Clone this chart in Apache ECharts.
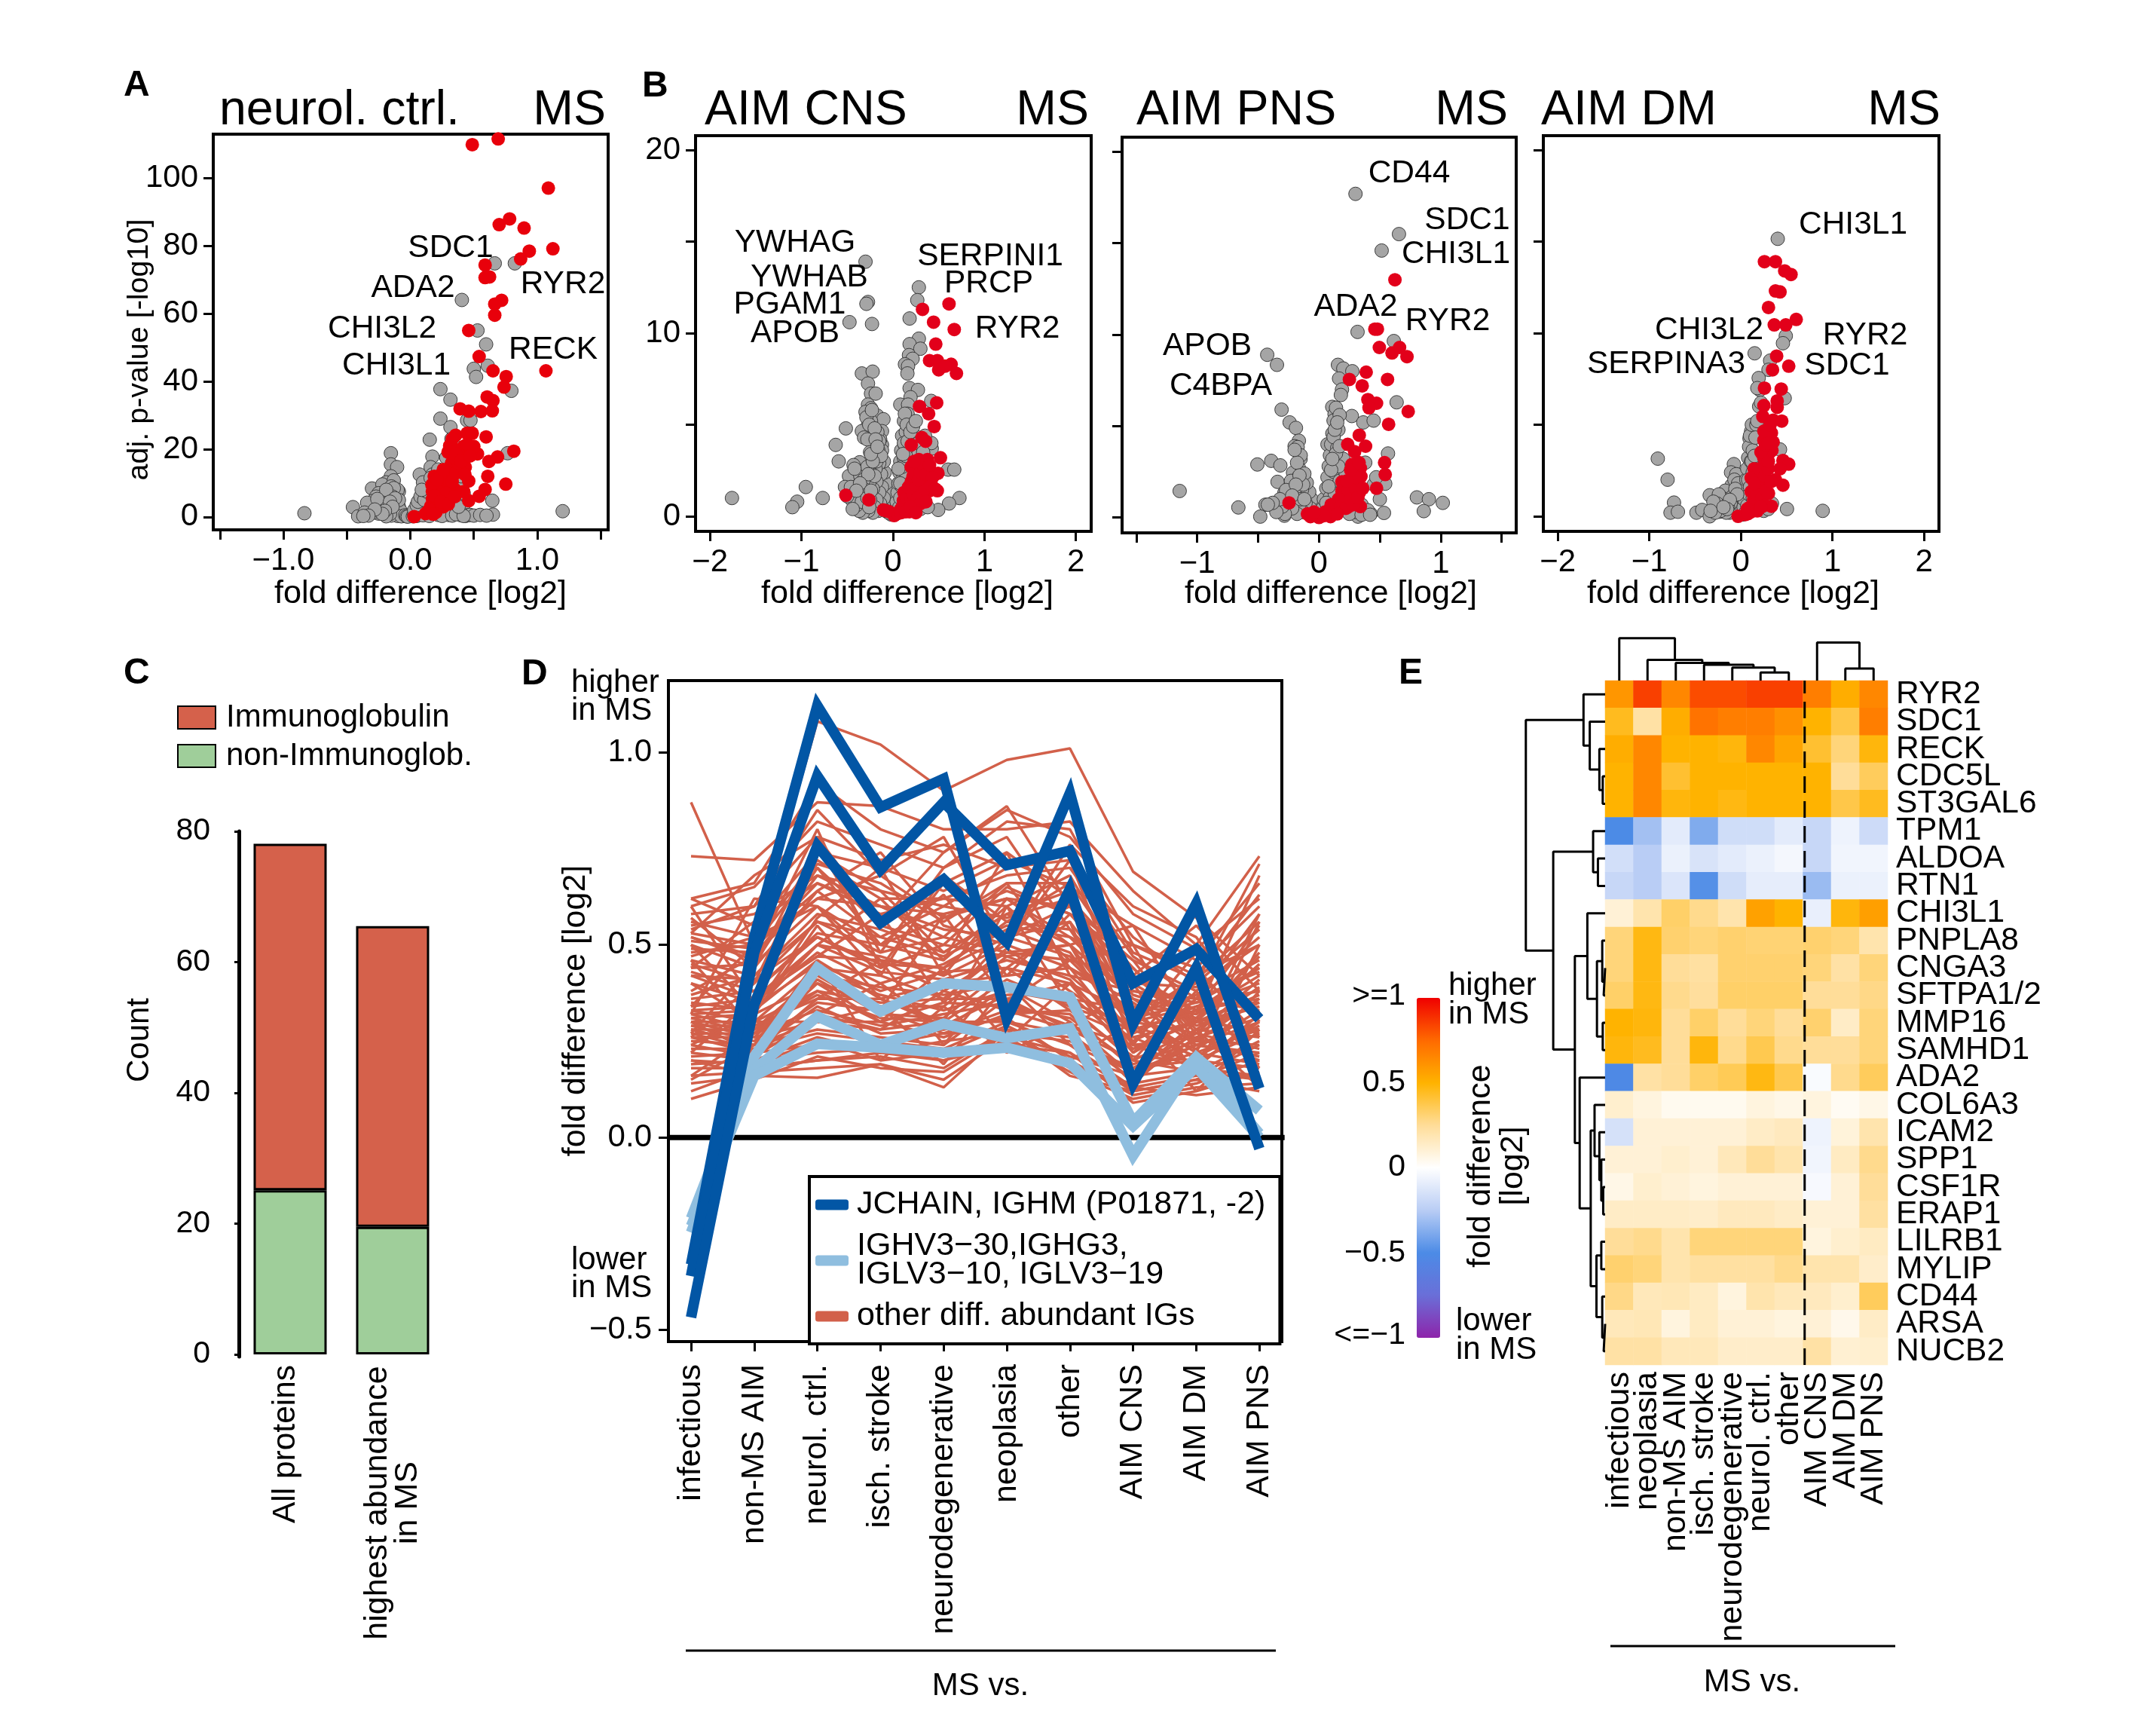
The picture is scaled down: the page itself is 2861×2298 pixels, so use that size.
<!DOCTYPE html>
<html><head><meta charset="utf-8">
<style>html,body{margin:0;padding:0;background:#fff}#c{width:2861px;height:2298px}</style>
<script src="https://cdn.jsdelivr.net/npm/echarts@6/dist/echarts.min.js"></script>
</head><body><div id="c"></div>
<script>
// ---------- DATA ----------
const aGrey=[[.665,74.8],[.823,74.8],[.406,64],[.529,55],[.597,50.9],[.5,43.7],[.61,44.6],[.518,41.3],[.796,37.2],[.237,37.7],[.316,34.6],[.237,29],[.447,28.5],[.474,28.5],[.316,26.5],[.153,22.8],[.324,23],[.174,17.8],[.283,17.5],[.766,18.8],[-.153,18.8],[-.153,15.5],[-.104,14.7],[-.153,12],[.074,12.5],[.16,14.7],[.174,12.5],[-.302,8.4],[-.09,7.5],[.646,4.8],[-.834,1.1],[-.452,2.9],[-.411,.2],[1.2,1.7],[.651,.7],[.433,.3],
[-.05,.4],[-.06,1],[-.08,.6],[-.1,1.5],[-.1,.3],[-.12,2.3],[-.12,.9],[-.13,3.4],[-.14,1.2],[-.15,4.5],[-.15,2],[-.15,.4],[-.16,6],[-.16,3],[-.17,7.5],[-.17,1.1],[-.18,9],[-.18,4.3],[-.18,2.2],[-.19,10.2],[-.2,5.4],[-.2,3.1],[-.2,.6],[-.21,6.6],[-.21,1.5],[-.22,4.4],[-.22,9.6],[-.23,2.6],[-.24,5.7],[-.25,7],[-.25,3.4],[-.25,1],[-.27,6],[-.27,4.4],[-.29,4.8],[-.3,3.3],[-.3,1.2],[-.33,1.4],[-.34,4.2],[-.36,1.3],[-.13,10.8],[-.11,6.8],[-.12,7.6],[-.09,3],[-.08,2],[-.07,.2],[-.04,.5],[-.03,.2],[-.02,.1],[-.16,.9],[-.19,.2],[-.1,8],
[.02,.2],[.03,.6],[.04,1.1],[.05,.3],[.06,1.8],[.07,2.8],[.07,.7],[.08,4],[.09,1.2],[.09,5.4],[.1,6.8],[.1,2.6],[.1,.5],[.11,8.2],[.12,3.8],[.12,1.4],[.13,10],[.14,5.3],[.14,.7],[.15,7],[.15,2.4],[.16,3.6],[.17,9.2],[.17,.8],[.18,4.8],[.19,6],[.2,11],[.2,2],[.21,3.3],[.22,14],[.22,.6],[.23,8],[.25,5.2],[.25,1.3],[.27,2.8],[.28,11],[.3,7],[.3,.6],[.32,4.2],[.33,16],[.35,1.5],[.38,5.5],[.4,.5],[.43,1.4],[.45,.5],[.47,.6],[.5,.4],[.55,.6],[.35,21],[.38,9],[.4,12],
[-.15,9],[-.13,8.5],[-.17,5.3],[-.14,6],[-.19,8],[-.11,4.8],[-.09,5],[-.23,4],[-.26,5.3],[-.12,5.5],[-.16,4.5],[-.14,3],[-.2,1.8],[-.22,.9],[-.28,2.2],[-.33,.4],[-.37,.3],[.03,2],[.05,3.5],[.06,4.5],[.08,6],[.11,5],[.12,9.5],[.1,10.2],[.13,7.5],[.16,11.5],[.09,8],[.15,.3],[.25,.3],[.33,.4],[.36,.8],[.42,.3],[.6,.4],[.38,3],[.42,7]];
const aRed=[[.488,109.8],[.692,111.5],[1.087,97],[.782,87.9],[.7,86.2],[.896,85.2],[.937,78.4],[1.123,79.1],[.869,76.1],[.589,74.3],[.589,70.6],[.624,70.8],[.719,63.9],[.665,62.8],[.665,59.5],[.46,55],[.542,47.3],[.651,43.1],[1.068,43.1],[.755,41.4],[.738,38.3],[.605,35.4],[.651,34.3],[.392,31.9],[.46,31.2],[.556,31.1],[.646,31.3],[.357,24.1],[.447,24.7],[.488,24.7],[.597,23.6],[.815,19.4],[.687,17.7],[.619,16.4],[.529,18.6],[.5,20.8],[.42,20.8],[.338,20.2],[.297,19.1],[.379,18.6],[.324,15.8],[.433,14.7],[.392,13.6],[.61,12],[.46,10.6],[.752,9.7],[.589,8.1],[.542,6.1],[.46,4.8],[.42,7.5],[.188,12],[.243,12.5],[.297,13],[.229,10.3],[.297,9.7],[.351,8.1],[.174,7.5],[.243,7.5],[.283,5.9],[.174,5.3],[.229,4.8],[.16,3.1],[.134,1.4],[.202,1.4],[.188,3.7],[.03,.1],
[.2,9],[.22,6],[.25,9],[.27,11],[.3,11],[.32,6.5],[.33,10.5],[.36,13],[.38,16],[.35,17.5],[.31,21],[.33,23],[.36,18.5],[.4,16.5],[.45,21.5],[.47,18],[.28,7],[.26,3],[.2,2.8],[.17,9.5],[.19,6.2],[.15,2.2],[.12,1],[.18,.8],[.24,4.5],[.3,3.8],[.35,6],[.21,11],[.26,14],[.43,12.5]];
const b1Grey=[[-.3,13.9],[-.273,11.7],[-.29,11.6],[-.475,10.6],[-.229,10.5],[.283,12.5],[.266,11.8],[.182,10.8],[.283,9.7],[.182,9.4],[.3,9.15],[.175,8.8],[.215,8.6],[.131,8.3],[.165,8.2],[.158,7.8],[-.34,7.8],[-.222,7.9],[-.273,7.25],[-.24,6.7],[-.189,6.7],[.182,7],[.273,6.9],[.192,6.5],[.08,6.1],[.165,6.1],[.418,6.3],[-.273,6.1],[-.24,5.9],[-.172,5.5],[-.104,5.3],[.165,5.4],[-.273,5],[-.12,4.65],[-.34,4.65],[-.515,4.8],[-.222,4.45],[-.316,4.3],[-.626,3.9],[-.593,3],[-.12,3.9],[-.172,3.4],[-.189,2.9],[-.364,2.95],[-.431,2.8],[-.481,2.2],[-.357,2.2],[-.104,2.3],[-.24,1.9],[-.172,1.6],[-.525,1.6],[-.34,1.4],[-.953,1.6],[-1.76,1],[-1.047,.8],[-1.1,.5],[-.768,1],[.603,2.55],[.67,2.55],[.727,1],[.613,.7],[.495,.35],[.424,3.7],[.434,2.2],
[-.02,.1],[-.03,.3],[-.04,.5],[-.05,.9],[-.05,.2],[-.06,1.3],[-.07,.6],[-.08,1.8],[-.08,.3],[-.09,2.4],[-.1,1],[-.1,3],[-.11,.4],[-.12,3.6],[-.12,1.6],[-.13,2.3],[-.14,4.2],[-.14,.7],[-.15,2.9],[-.15,1.3],[-.16,3.6],[-.16,.3],[-.17,4.6],[-.18,1.9],[-.18,.9],[-.19,2.6],[-.2,3.2],[-.2,.5],[-.21,4],[-.22,1.5],[-.22,.2],[-.23,2.3],[-.24,5.2],[-.25,.9],[-.26,1.8],[-.27,.3],[-.28,2.7],[-.28,4.2],[-.3,1.3],[-.3,.5],[-.32,2],[-.33,.2],[-.35,1],[-.37,.3],[-.38,1.7],[-.4,.6],[-.42,1.2],[-.42,2.6],[-.45,.9],[-.46,1.6],[-.5,1.1],[-.3,5.7],[-.29,5.4],[-.26,5],[-.23,5.8],[-.2,4.8],
[.02,.1],[.03,.4],[.04,.8],[.05,1.3],[.05,.2],[.06,1.8],[.07,2.4],[.07,.5],[.08,3],[.09,1],[.09,3.6],[.1,4.4],[.1,1.6],[.11,2.3],[.11,.4],[.12,5.2],[.12,3.2],[.13,1.2],[.13,3.9],[.14,4.6],[.15,2.2],[.15,.7],[.16,5.6],[.16,3],[.17,1.5],[.18,4.2],[.18,.4],[.2,3.6],[.2,5],[.21,1],[.23,2.6],[.24,4.4],[.25,.6],[.27,3.3],[.28,1.2],[.3,.4],[.33,.8],[.35,2.1],[.38,.5],[.4,1.5],[.42,4],
[-.25,3.5],[-.2,2.2],[-.18,3],[-.15,4.1],[-.13,3.3],[-.22,3],[-.27,2.3],[-.24,3.4],[-.19,4.2],[-.17,3.8],[-.32,1.5],[-.36,1.8],[-.34,.8],[-.4,1.4],[-.28,1],[-.24,1.4],[-.26,.5],[-.44,.4],[.08,1.8],[.1,2.7],[.12,4],[.14,3.3],[.16,4.1],[.11,3.4],[.13,5.6],[.15,5],[.19,4.6],[.22,4.9],[.25,5.2],[.28,4],[.33,3.5],[.35,4.4],[.06,2.6],[.08,1]];
const b1Red=[[.323,11.3],[.613,11.6],[.444,10.6],[.67,10.2],[.468,9.4],[.4,8.5],[.485,8.5],[.5,8],[.636,8.3],[.569,8.2],[.694,7.8],[.29,6],[.478,6.2],[.39,5.6],[.451,4.9],[.2,3.9],[.316,4.3],[.357,4.1],[.519,3.2],[.283,3.1],[.377,3.1],[.492,2.35],[.199,2.7],[.283,2.6],[.384,2.5],[.485,1.4],[-.515,1.15],[-.263,.9],[.2,1.9],[.3,1.9],[.384,1.7],[.18,1.4],[.283,1.4],[.4,1.4],[.114,.86],[.215,.76],[.33,.96],[-.104,.35],[-.04,.25],[.013,.04],[.08,.35],[.148,.45],[.18,.25],
[.1,.5],[.12,1.3],[.15,1],[.17,1.6],[.2,.9],[.22,1.2],[.24,.5],[.25,1.7],[.27,1],[.3,.7],[.32,1.2],[.35,1.5],[.36,.8],[.22,2.2],[.25,2.3],[.28,2],[.3,2.4],[.33,2.8],[.36,2.3],[.4,2.8],[.43,2.1],[.23,3],[.42,1.7],[.46,1.5],[.05,.15],[.09,.2],[.14,.25],[.19,.5],[.25,.2],[-.07,.3]];
const b2Grey=[[.3,17.7],[.657,15.5],[.515,14.6],[.317,10.15],[.615,9.65],[-.425,8.9],[-.345,8.35],[.156,8.35],[.2,8.15],[.274,8],[.165,7.6],[.189,7],[.109,6.05],[.128,5.65],[.638,6.3],[-.307,5.9],[-.241,5.2],[-.189,4.9],[.27,5.55],[.364,5.2],[.449,5.3],[.142,5.1],[.118,4.5],[-.165,4.2],[-.2,3.9],[-.175,3.85],[.118,3.8],[.07,4],[.567,3.5],[-.392,3.1],[-.506,2.9],[-.317,2.85],[-.151,3.2],[-.165,2.7],[-.213,2.45],[.118,3],[-.34,1.95],[-.118,2.05],[-.151,1.45],[-1.144,1.45],[-.662,.55],[-.44,.7],[-.482,.05],[-.284,1.35],[-.26,.7],[-.284,.1],[.804,1.1],[.903,1],[1.017,.8],[.861,.35],[.534,.25],[.32,.05],[.425,.2],[.544,1.85],
[-.02,.1],[-.03,.3],[-.04,.6],[-.05,.2],[-.06,1],[-.07,.5],[-.08,1.4],[-.09,.3],[-.1,1.9],[-.11,.8],[-.12,2.4],[-.13,.3],[-.14,1.5],[-.15,3.4],[-.16,.7],[-.17,2.2],[-.18,3],[-.18,.2],[-.2,1.3],[-.2,3.7],[-.22,.5],[-.23,2],[-.25,.9],[-.27,1.5],[-.28,.2],[-.3,.6],[-.32,1],[-.35,.3],[-.38,.8],[-.42,.7],
[.02,.1],[.03,.5],[.04,1],[.05,.2],[.06,1.6],[.07,2.2],[.07,.6],[.08,2.8],[.09,3.4],[.09,1.1],[.1,4],[.1,.4],[.11,4.6],[.12,2.5],[.12,5.3],[.13,1.3],[.13,3.2],[.14,6],[.15,3.8],[.15,.8],[.16,4.8],[.17,2],[.17,5.6],[.18,6.7],[.19,1.2],[.2,3.2],[.2,.4],[.22,2.4],[.24,1.5],[.25,.6],[.28,1.1],[.3,.3],[.33,2.3],[.35,.7],[.38,3],[.4,.4],[.45,1.8],[.47,2.2],[.5,1],
[.12,4.4],[.14,3.5],[.16,2.8],[.1,2.6],[.11,3.2],[.13,4.8],[.15,5.2],[.08,1.7],[.06,.8],[.17,3.9],[-.13,1.8],[-.16,2.3],[-.19,1.8],[-.15,1],[-.22,1.2],[-.12,1],[.3,.9],[.25,.2],[.35,.15],[.42,.15]];
const b2Red=[[.624,13],[.459,10.3],[.48,10.3],[.496,9.3],[.662,9.3],[.6,9],[.723,8.8],[.388,7.95],[.563,7.55],[.25,7.55],[.355,7.2],[.402,6.45],[.473,6.25],[.411,6],[.733,5.8],[.572,5.1],[.331,4.5],[.236,4],[.383,3.9],[.293,3.6],[.539,3],[.544,2.35],[.473,1.6],[.27,2.9],[.34,2.7],[.284,2.45],[.345,2.25],[.189,1.95],[.307,1.95],[.189,1.45],[.331,1.35],[.213,1],[.34,.6],[-.246,.8],[-.095,.2],[-.07,.05],[.085,.4],[.165,.5],[0,0],[.095,.05],[.236,.57],
[.1,.7],[.13,.3],[.16,1],[.18,.6],[.2,1.2],[.22,.5],[.24,1.5],[.26,1],[.28,.7],[.3,1.6],[.32,1.1],[.36,1.6],[.3,2.2],[.23,2],[.26,2.6],[.33,3],[.15,.2],[.05,.3],[.04,.1],[-.04,.3]];
const b3Grey=[[.403,15.15],[.491,9.85],[.46,9.45],[.151,8.9],[.32,8.5],[.302,8],[.195,7.55],[.479,6.45],[.208,6.9],[.113,4.65],[.095,4.25],[.428,3.65],[.126,3.6],[-.076,2.85],[-.107,2.4],[-.907,3.15],[-.8,2],[-.73,.75],[-.768,.2],[-.687,.25],[-.485,.2],[-.422,.35],[-.34,1.15],[-.34,0],[-.233,.25],[-.233,.85],[.504,.4],[.894,.3],[.24,.35],
[-.02,.1],[-.03,.3],[-.04,.6],[-.05,.2],[-.06,.9],[-.07,.5],[-.08,1.3],[-.09,.3],[-.1,1.7],[-.11,.7],[-.12,.2],[-.13,1.2],[-.14,.5],[-.15,.9],[-.16,.2],[-.17,1.4],[-.18,.6],[-.2,1],[-.22,.3],[-.24,1.2],[-.26,.7],[-.28,.2],[-.3,.8],[-.33,.3],[-.05,2.3],[-.07,2],[-.03,1.8],
[.02,.1],[.03,.5],[.04,.9],[.05,1.5],[.05,.2],[.06,2],[.07,2.6],[.07,.6],[.08,3.2],[.09,3.8],[.09,1.2],[.1,4.4],[.1,.4],[.11,3],[.12,2],[.12,5],[.13,1],[.13,3.6],[.14,2.7],[.15,.5],[.16,1.6],[.18,2.3],[.2,.7],[.22,1.4],[.25,.3],[.28,.9],[.3,.4],[.34,.7],[.17,5],[.18,7],[.2,6],
[-.09,1.1],[-.06,1.5],[-.04,1.2],[-.12,.9],[-.15,.4],[-.19,.5],[.08,2],[.1,1.6],[.12,3],[.13,2.4],[.15,3.3],[.16,4.3],[.18,5.2],[.22,6.2]];
const b3Red=[[.258,13.9],[.378,13.9],[.479,13.4],[.548,13.2],[.378,12.3],[.428,12.25],[.302,11.4],[.605,10.75],[.491,10.45],[.365,10.45],[.391,8.75],[.346,8],[.523,8.2],[.441,6.95],[.258,7],[.252,6.05],[.397,5.95],[.397,6.3],[.24,5.45],[.353,5.25],[.447,5.2],[.252,4.65],[.334,4.55],[.252,4.15],[.353,4.05],[.302,3.4],[.46,3.05],[.523,2.85],[.428,2.6],[.145,2.6],[.27,2.8],[.113,2.1],[.208,2],[.378,2],[.46,1.7],[.24,1.6],[.113,1.35],[.302,1.25],[.334,.55],[.176,.75],[.113,.25],[-.03,0],[.05,.1],
[.1,.5],[.14,.9],[.17,1.2],[.2,1.5],[.23,1],[.26,.6],[.28,1.4],[.18,.3],[.22,.5],[.15,1.8],[.2,2.6],[.26,2.2],[.3,2.6],[.33,1.9],[.25,3.2],[.3,3],[.34,3.6],[.22,3.5],[.28,4.5],[.32,5],[.27,3.9],[.07,.4],[.08,.15],[.3,4]];

const barCats=['All proteins','highest abundance\nin MS'];
const barNonIg=[25.1,19.5];
const barIg=[53,46];

const lineCats=['infectious','non-MS AIM','neurol. ctrl.','isch. stroke','neurodegenerative','neoplasia','other','AIM CNS','AIM DM','AIM PNS'];
const jchainLines=[[-.33,.52,1.121,.857,.931,.308,.645,.14,.44,-.029],[-.36,.48,.938,.695,.87,.707,.744,.4,.489,.308],[-.467,.345,.757,.557,.67,.507,.894,.295,.607,.127]];
const ighvLines=[[-.21,.21,.44,.327,.4,.39,.364,.04,.208,.07],[-.247,.175,.314,.24,.295,.258,.283,-.047,.205,.01],[-.23,.16,.243,.233,.22,.233,.193,.03,.183,.0]];
const otherIGs=[
[.87,.5,1.08,1.02,.9,.98,1.01,.69,.57,.42],[.73,.72,.87,.86,.8,.8,.82,.64,.5,.73],[.62,.66,.92,.8,.74,.85,.78,.58,.49,.62],[.6,.65,.82,.76,.7,.82,.8,.5,.44,.6],[.58,.6,.78,.72,.76,.7,.72,.52,.4,.71],[.56,.52,.72,.62,.62,.68,.7,.47,.36,.58],[.53,.5,.71,.66,.56,.66,.66,.42,.33,.55],[.52,.47,.68,.6,.58,.62,.6,.46,.38,.52],[.51,.49,.66,.58,.62,.6,.68,.4,.3,.48],[.5,.44,.64,.52,.6,.57,.62,.38,.35,.44],
[.52,.46,.7,.55,.5,.65,.58,.5,.42,.5],[.49,.48,.62,.6,.54,.52,.56,.34,.32,.42],[.47,.52,.6,.5,.57,.62,.52,.44,.28,.39],[.46,.42,.58,.54,.48,.58,.64,.32,.37,.46],[.45,.4,.56,.48,.52,.48,.5,.36,.25,.36],[.44,.45,.6,.46,.44,.56,.54,.3,.34,.4],[.43,.38,.53,.5,.46,.6,.46,.42,.29,.34],[.42,.41,.52,.44,.5,.47,.5,.28,.33,.44],[.42,.36,.5,.47,.42,.5,.44,.35,.24,.3],[.4,.35,.48,.4,.45,.54,.48,.26,.3,.37],
[.35,.33,.5,.43,.41,.46,.42,.38,.36,.33],[.34,.36,.47,.46,.38,.48,.46,.3,.27,.41],[.33,.34,.45,.38,.43,.44,.4,.32,.22,.28],[.33,.3,.44,.42,.36,.49,.38,.27,.34,.35],[.32,.33,.46,.36,.4,.42,.44,.24,.26,.31],[.32,.28,.42,.39,.37,.4,.36,.33,.2,.38],[.31,.32,.4,.34,.34,.47,.41,.22,.31,.27],[.31,.27,.43,.37,.33,.38,.35,.29,.23,.33],[.3,.3,.38,.35,.36,.36,.4,.2,.28,.26],[.3,.26,.41,.32,.31,.44,.33,.26,.19,.3],
[.29,.29,.36,.36,.29,.37,.37,.23,.3,.34],[.29,.25,.4,.3,.35,.34,.31,.19,.25,.24],[.28,.28,.37,.31,.3,.41,.34,.28,.21,.29],[.28,.24,.35,.33,.27,.33,.32,.18,.27,.23],[.27,.27,.33,.29,.32,.35,.29,.24,.18,.32],[.27,.23,.34,.27,.28,.39,.3,.16,.24,.22],[.26,.26,.3,.3,.26,.32,.33,.21,.2,.27],[.26,.22,.32,.28,.3,.3,.27,.15,.26,.2],[.25,.24,.28,.26,.24,.36,.28,.2,.17,.25],[.24,.21,.31,.24,.27,.28,.26,.17,.22,.19],
[.23,.23,.27,.25,.23,.3,.24,.13,.16,.24],[.22,.2,.26,.22,.25,.27,.25,.18,.2,.18],[.21,.22,.24,.24,.21,.26,.22,.12,.15,.22],[.2,.19,.25,.2,.22,.29,.21,.16,.18,.16],[.19,.2,.22,.23,.2,.25,.2,.11,.14,.2],[.18,.18,.2,.21,.18,.28,.18,.14,.17,.15],[.16,.17,.18,.19,.15,.26,.17,.1,.13,.14],[.14,.16,.155,.19,.13,.28,.16,.12,.15,.12],[.12,.18,.2,.22,.2,.24,.22,.09,.12,.17],[.1,.15,.21,.18,.17,.27,.19,.13,.11,.13],
[.62,.55,.74,.7,.64,.72,.65,.55,.46,.66],[.55,.58,.68,.64,.6,.7,.74,.48,.41,.56],[.48,.5,.62,.68,.57,.64,.58,.4,.39,.5],[.37,.42,.56,.52,.47,.55,.52,.36,.31,.47],[.36,.38,.52,.45,.44,.52,.47,.31,.35,.38],
[.53,.68,.78,.56,.74,.86,.6,.42,.55,.38],[.34,.5,.64,.74,.55,.5,.72,.3,.42,.63],[.5,.33,.57,.7,.42,.62,.5,.55,.3,.28],[.27,.45,.7,.5,.63,.42,.58,.46,.25,.58],[.6,.35,.5,.62,.46,.74,.42,.28,.48,.32],[.32,.62,.6,.42,.68,.56,.66,.24,.44,.26],[.22,.36,.47,.58,.35,.52,.6,.34,.17,.5],[.46,.28,.42,.33,.58,.35,.46,.5,.22,.56],[.24,.32,.55,.36,.3,.6,.34,.2,.38,.18],[.3,.22,.36,.46,.24,.44,.56,.16,.3,.45],[.4,.3,.3,.28,.38,.33,.28,.4,.16,.16],[.16,.27,.38,.3,.44,.25,.4,.25,.33,.36],[.2,.16,.32,.4,.28,.31,.2,.3,.12,.28],[.28,.24,.46,.2,.34,.22,.3,.14,.28,.13],[.57,.44,.76,.48,.7,.78,.54,.37,.32,.68],[.54,.6,.85,.68,.78,.5,.76,.6,.52,.3],[.44,.56,.66,.6,.52,.66,.44,.33,.4,.54],[.38,.47,.8,.44,.66,.74,.62,.44,.27,.35],[.26,.4,.74,.64,.48,.58,.5,.22,.36,.43],[.15,.24,.3,.34,.19,.4,.24,.17,.24,.21]];

const heatCols=['infectious','neoplasia','non-MS AIM','isch. stroke','neurodegenerative','neurol. ctrl.','other','AIM CNS','AIM DM','AIM PNS'];
const heatRows=['RYR2','SDC1','RECK','CDC5L','ST3GAL6','TPM1','ALDOA','RTN1','CHI3L1','PNPLA8','CNGA3','SFTPA1/2','MMP16','SAMHD1','ADA2','COL6A3','ICAM2','SPP1','CSF1R','ERAP1','LILRB1','MYLIP','CD44','ARSA','NUCB2'];
const heatVals=[
[.6,.85,.65,.82,.82,.85,.85,.68,.52,.65],[.45,.22,.52,.72,.68,.68,.62,.5,.38,.68],[.52,.65,.5,.5,.48,.65,.55,.42,.3,.48],[.5,.65,.42,.5,.5,.5,.5,.5,.25,.35],[.5,.65,.48,.5,.47,.5,.5,.5,.38,.45],
[-.5,-.3,-.1,-.38,-.17,-.17,-.1,-.2,-.06,-.18],[-.16,-.25,-.07,-.14,-.1,-.07,-.04,-.2,-.05,-.05],[-.2,-.25,-.13,-.48,-.17,-.09,-.09,-.32,-.07,-.07],[.1,.2,.33,.27,.2,.56,.5,-.08,.48,.57],[.3,.47,.32,.3,.32,.31,.31,.32,.3,.2],
[.3,.47,.25,.23,.32,.32,.32,.3,.22,.3],[.33,.47,.27,.24,.33,.33,.33,.25,.25,.28],[.5,.48,.25,.33,.25,.3,.25,.32,.14,.3],[.48,.45,.25,.48,.27,.37,.27,.25,.25,.3],[-.52,.22,.25,.33,.36,.47,.37,-.02,.27,.35],
[.12,.08,.04,.04,.04,.08,.06,.08,.03,.06],[-.15,.1,.1,.1,.1,.14,.16,-.06,.09,.2],[.1,.1,.12,.1,.17,.25,.2,-.05,.15,.27],[.06,.12,.1,.08,.1,.1,.1,-.03,.1,.25],[.14,.14,.14,.13,.16,.16,.14,.1,.1,.23],
[.25,.27,.2,.3,.3,.3,.3,.08,.12,.15],[.32,.3,.2,.23,.23,.23,.27,.2,.2,.13],[.28,.17,.18,.15,.08,.2,.17,.16,.12,.35],[.17,.18,.08,.15,.1,.1,.08,.1,.05,.14],[.22,.22,.17,.17,.13,.13,.13,.22,.11,.12]];
// dendrograms: [height, childA, childB]; a number child is a leaf index
const colTreeLeft=[88,0,[43,1,[37,2,[33,3,[27,4,[17,5,6]]]]]];
const colTreeRight=[79,7,[25,8,9]];
const rowTree=[165,[45,0,[32,1,[12,2,[5,3,4]]]],[108,[25,5,[15,6,7]],[63,[37,8,[17,[6,9,[3,10,11]],[5,12,13]]],[53,14,[30,[22,15,[12,16,[8,17,[4,18,19]]]],[18,[8,20,21],[6,22,[3,23,24]]]]]]]];

// ---------- LAYOUT HELPERS ----------
const FF='"Liberation Sans",Arial,sans-serif';
const minus=v=>String(v).replace('-','\u2212');
const G=[];const T=[];const X=[];const Y=[];const S=[];
function txt(x,y,s,o={}){T.push({type:'text',silent:true,x,y,rotation:o.rot?Math.PI/2:0,z:50,
  style:{text:s,fill:'#000',font:`${o.bold?'bold ':''}${o.size||41}px ${FF}`,textAlign:o.align||'center',textVerticalAlign:'middle',lineHeight:o.lh||undefined}});}
function volcano(box,xr,yr,xt,xl,xfmt,yt,yl,grey,red,redCol){
  const i=G.length;
  G.push({left:box[0],top:box[1],width:box[2]-box[0],height:box[3]-box[1],show:true,borderColor:'#000',borderWidth:4,backgroundColor:'transparent'});
  X.push({type:'value',gridIndex:i,min:xr[0],max:xr[1],splitLine:{show:false},axisLine:{show:false,onZero:false},
    axisTick:{show:true,length:13,customValues:xt,lineStyle:{color:'#000',width:3}},
    axisLabel:{customValues:xl,margin:20,color:'#000',fontSize:42,fontFamily:FF,formatter:v=>minus(xfmt(v))}});
  Y.push({type:'value',gridIndex:i,min:yr[0],max:yr[1],splitLine:{show:false},axisLine:{show:false,onZero:false},
    axisTick:{show:true,length:13,customValues:yt,lineStyle:{color:'#000',width:3}},
    axisLabel:{show:yl.length>0,customValues:yl,margin:20,padding:[6,0,0,0],color:'#000',fontSize:42,fontFamily:FF}});
  const sc={type:'scatter',xAxisIndex:i,yAxisIndex:i,symbolSize:18,silent:true};
  S.push({...sc,data:grey,itemStyle:{color:'#A5A5A5',borderColor:'#3c3c3c',borderWidth:1,opacity:1},z:2});
  S.push({...sc,data:red,itemStyle:{color:redCol,opacity:1},z:3});
}
const oneDec=v=>v.toFixed(1),plain=v=>v;
// ---------- PANELS A, B ----------
volcano([283,178,807,703],[-1.552,1.558],[-3.8,112.9],[-1.5,-1,-.5,0,.5,1,1.5],[-1,0,1],oneDec,[0,20,40,60,80,100],[0,20,40,60,80,100],aGrey,aRed,'#E8000B');
volcano([923,180,1448,705],[-2.158,2.167],[-.82,20.78],[-2,-1,0,1,2],[-2,-1,0,1,2],plain,[0,5,10,15,20],[0,10,20],b1Grey,b1Red,'#E2001A');
volcano([1489,182,2012,707],[-1.617,1.62],[-.84,20.8],[-1.5,-1,-.5,0,.5,1,1.5],[-1,0,1],plain,[0,5,10,15,20],[],b2Grey,b2Red,'#E2001A');
volcano([2048,180,2573,705],[-2.157,2.164],[-.82,20.78],[-2,-1,0,1,2],[-2,-1,0,1,2],plain,[0,5,10,15,20],[],b3Grey,b3Red,'#E2001A');
// ---------- PANEL C ----------
{const i=G.length;
 G.push({left:317,top:1103,width:272,height:697});
 X.push({type:'category',gridIndex:i,data:barCats,axisLine:{show:false,onZero:false},axisTick:{show:false},axisLabel:{show:false}});
 Y.push({type:'value',gridIndex:i,min:-.35,max:80,splitLine:{show:false},axisLine:{show:true,onZero:false,lineStyle:{color:'#000',width:5}},axisTick:{show:true,length:6,customValues:[0,20,40,60,80],lineStyle:{color:'#000',width:3}},axisLabel:{customValues:[0,20,40,60,80],margin:38,color:'#000',fontSize:41,fontFamily:FF}});
 const b={type:'bar',stack:'c',xAxisIndex:i,yAxisIndex:i,barWidth:97,silent:true};
 S.push({...b,name:'non-Immunoglob.',data:barNonIg,itemStyle:{color:'#9FCE9A',borderColor:'#000',borderWidth:3}});
 S.push({...b,name:'Immunoglobulin',data:barIg,itemStyle:{color:'#D5614B',borderColor:'#000',borderWidth:3}});
}
// ---------- PANEL D ----------
{const i=G.length;
 G.push({left:887,top:903,width:814,height:877,show:true,borderColor:'#000',borderWidth:4,backgroundColor:'transparent'});
 const xs=lineCats.map((_,k)=>k);
 X.push({type:'value',gridIndex:i,min:-.358,max:9.356,splitLine:{show:false},axisLine:{show:false,onZero:false},
   axisTick:{show:true,length:13,customValues:xs,lineStyle:{color:'#000',width:3}},
   axisLabel:{customValues:xs,rotate:90,margin:30,color:'#000',fontSize:43,fontFamily:FF,formatter:v=>lineCats[v]}});
 Y.push({type:'value',gridIndex:i,min:-.53,max:1.186,splitLine:{show:false},axisLine:{show:false,onZero:false},
   axisTick:{show:true,length:13,customValues:[-.5,0,.5,1],lineStyle:{color:'#000',width:3}},
   axisLabel:{customValues:[-.5,0,.5,1],margin:22,color:'#000',fontSize:42,fontFamily:FF,formatter:v=>minus(v.toFixed(1))}});
 const pts=a=>a.map((v,k)=>[k,v]);
 const l={type:'line',xAxisIndex:i,yAxisIndex:i,showSymbol:false,symbol:'none',silent:true,clip:false};
 const otherName='other diff. abundant IGs';
 otherIGs.forEach(a=>S.push({...l,name:otherName,data:pts(a),z:2,lineStyle:{color:'#D2604A',width:3.5},itemStyle:{color:'#D2604A'}}));
 S.push({...l,name:'zero',data:[[-.358,0],[9.4,0]],z:3,lineStyle:{color:'#000',width:7},itemStyle:{color:'#000'}});
 const ighvName='IGHV3\u221230,IGHG3,\nIGLV3\u221210, IGLV3\u221219';
 ighvLines.forEach(a=>S.push({...l,name:ighvName,data:pts(a),z:4,lineStyle:{color:'#8FBEDF',width:14,join:'miter'},itemStyle:{color:'#8FBEDF'}}));
 const jName='JCHAIN, IGHM (P01871, -2)';
 jchainLines.forEach(a=>S.push({...l,name:jName,data:pts(a),z:5,lineStyle:{color:'#0256A5',width:14,join:'miter'},itemStyle:{color:'#0256A5'}}));
 var legendD={left:1074,top:1561,orient:'vertical',selectedMode:false,icon:'roundRect',itemWidth:44,itemHeight:14,itemGap:12,padding:[16,19,15,8],
   backgroundColor:'#fff',borderColor:'#000',borderWidth:4,data:[jName,ighvName,otherName],
   textStyle:{color:'#000',fontSize:43,fontFamily:FF,lineHeight:38,padding:[0,0,0,6]}};
}
var legendC={left:235,top:931,orient:'vertical',selectedMode:false,icon:'rect',itemWidth:50,itemHeight:30,itemGap:9,padding:0,
  data:['Immunoglobulin','non-Immunoglob.'],textStyle:{color:'#000',fontSize:42,fontFamily:FF,padding:[0,0,0,9]}};
// ---------- PANEL E ----------
const HL=2130,HT=903,HW=375,HH=908;
{const i=G.length;
 G.push({left:HL,top:HT,width:HW,height:HH});
 X.push({type:'category',gridIndex:i,data:heatCols,position:'bottom',splitArea:{show:false},splitLine:{show:false},axisLine:{show:false},axisTick:{show:false},axisLabel:{interval:0,rotate:90,margin:9,hideOverlap:false,color:'#000',fontSize:43,fontFamily:FF}});
 Y.push({type:'category',gridIndex:i,data:heatRows,inverse:true,position:'right',splitArea:{show:false},splitLine:{show:false},axisLine:{show:false},axisTick:{show:false},axisLabel:{interval:0,margin:11,hideOverlap:false,color:'#000',fontSize:42.5,fontFamily:FF}});
 const d=[];heatVals.forEach((r,ri)=>r.forEach((v,ci)=>d.push([ci,ri,v])));
 S.push({type:'heatmap',xAxisIndex:i,yAxisIndex:i,data:d,silent:true,itemStyle:{borderWidth:0}});
 var heatSeries=S.length-1;
}
function treeSeg(node,out){ // returns [pos,height]
  if(typeof node==='number')return [node+.5,0];
  const a=treeSeg(node[1],out),b=treeSeg(node[2],out),h=node[0];
  out.push([a[0],a[1]],[a[0],h],[b[0],h],[b[0],b[1]],[NaN,NaN]);
  return [(a[0]+b[0])/2,h];
}
{// column dendrogram
 const i=G.length;
 G.push({left:HL,top:HT-60,width:HW,height:60});
 X.push({type:'value',gridIndex:i,show:false,min:0,max:10});
 Y.push({type:'value',gridIndex:i,show:false,min:0,max:94});
 const o=[];treeSeg(colTreeLeft,o);treeSeg(colTreeRight,o);
 S.push({type:'line',xAxisIndex:i,yAxisIndex:i,data:o,symbol:'none',silent:true,connectNulls:false,lineStyle:{color:'#000',width:3}});
}
{// row dendrogram
 const i=G.length;
 G.push({left:HL-110,top:HT,width:110,height:HH});
 X.push({type:'value',gridIndex:i,show:false,min:0,max:172.5,inverse:true});
 Y.push({type:'value',gridIndex:i,show:false,min:0,max:25,inverse:true});
 const o=[];treeSeg(rowTree,o);
 S.push({type:'line',xAxisIndex:i,yAxisIndex:i,data:o.map(p=>[p[1],p[0]]),symbol:'none',silent:true,connectNulls:false,lineStyle:{color:'#000',width:3}});
}
{// dashed separator in heatmap
 const i=G.length;
 G.push({left:HL,top:HT,width:HW,height:HH});
 X.push({type:'value',gridIndex:i,show:false,min:0,max:10});
 Y.push({type:'value',gridIndex:i,show:false,min:0,max:1});
 S.push({type:'line',xAxisIndex:i,yAxisIndex:i,data:[[7.06,0],[7.06,1]],symbol:'none',silent:true,z:6,lineStyle:{color:'#000',width:3,type:[22,11]}});
}
// ---------- TEXT ----------
[['A',164,114],['B',852,115],['C',164,894],['D',692,895],['E',1856,894]].forEach(a=>txt(a[1],a[2],a[0],{bold:true,size:48,align:'left'}));
[['neurol. ctrl.',291,804],['AIM CNS',935,1445],['AIM PNS',1508,2001],['AIM DM',2045,2575]].forEach(a=>{txt(a[1],147,a[0],{size:64.5,align:'left'});txt(a[2],147,'MS',{size:64.5,align:'right'});});
[558,1204,1766,2300].forEach(x=>txt(x,788,'fold difference [log2]',{size:43.2}));
txt(185,464,'adj. p-value [-log10]',{size:39.5,rot:true});
[['SDC1',598,329],['ADA2',548,382],['RYR2',747,377],['CHI3L2',507,436],['RECK',734,464],['CHI3L1',526,485],
 ['YWHAG',1055,322],['SERPINI1',1314,340],['YWHAB',1074,368],['PRCP',1312,376],['PGAM1',1048,404],['APOB',1055,442],['RYR2',1350,436],
 ['CD44',1870,230],['SDC1',1947,292],['CHI3L1',1932,337],['ADA2',1799,407],['RYR2',1921,426],['APOB',1602,459],['C4BPA',1620,512],
 ['CHI3L1',2459,298],['CHI3L2',2268,438],['RYR2',2475,445],['SERPINA3',2211,483],['SDC1',2451,485]].forEach(a=>txt(a[1],a[2],a[0],{size:42.5}));
txt(185,1380,'Count',{size:42,rot:true});
txt(379,1916,barCats[0],{rot:true,size:42.5});
txt(521,1994,barCats[1],{rot:true,size:43,lh:40});
txt(758,925,'higher\nin MS',{align:'left',lh:37,size:42});
txt(758,1691,'lower\nin MS',{align:'left',lh:37,size:42});
txt(764,1341,'fold difference [log2]',{rot:true,size:43});
txt(1301,2237,'MS vs.',{size:42});
txt(2325,2232,'MS vs.',{size:42});
[['>=1',1322],['0.5',1437],['0',1549],['\u22120.5',1663],['<=\u22121',1772]].forEach(a=>txt(1865,a[1],a[0],{align:'right',size:41}));
txt(1922,1327,'higher\nin MS',{align:'left',lh:38,size:42});
txt(1932,1772,'lower\nin MS',{align:'left',lh:38,size:42});
txt(1987,1547,'fold difference\n[log2]',{rot:true,lh:43,size:43});
T.push({type:'line',silent:true,shape:{x1:910,y1:2190,x2:1693,y2:2190},style:{stroke:'#000',lineWidth:3}});
T.push({type:'line',silent:true,shape:{x1:2137,y1:2184,x2:2515,y2:2184},style:{stroke:'#000',lineWidth:3}});

const chart=echarts.init(document.getElementById('c'),null,{width:2861,height:2298,renderer:'canvas'});
chart.setOption({animation:false,backgroundColor:'#fff',textStyle:{fontFamily:FF},
  grid:G,xAxis:X,yAxis:Y,series:S,legend:[legendC,legendD],graphic:{elements:T},
  visualMap:{type:'continuous',seriesIndex:heatSeries,min:-1,max:1,left:1880,top:1324,itemWidth:31,itemHeight:451,padding:0,calculable:false,text:null,showLabel:false,
    inRange:{color:['#8E24AA','#6A6FD8','#4C8BE6','#B9CDF5','#FFFFFF','#FFDD99','#FFB300','#FF6A00','#F00000']}}});
</script></body></html>
